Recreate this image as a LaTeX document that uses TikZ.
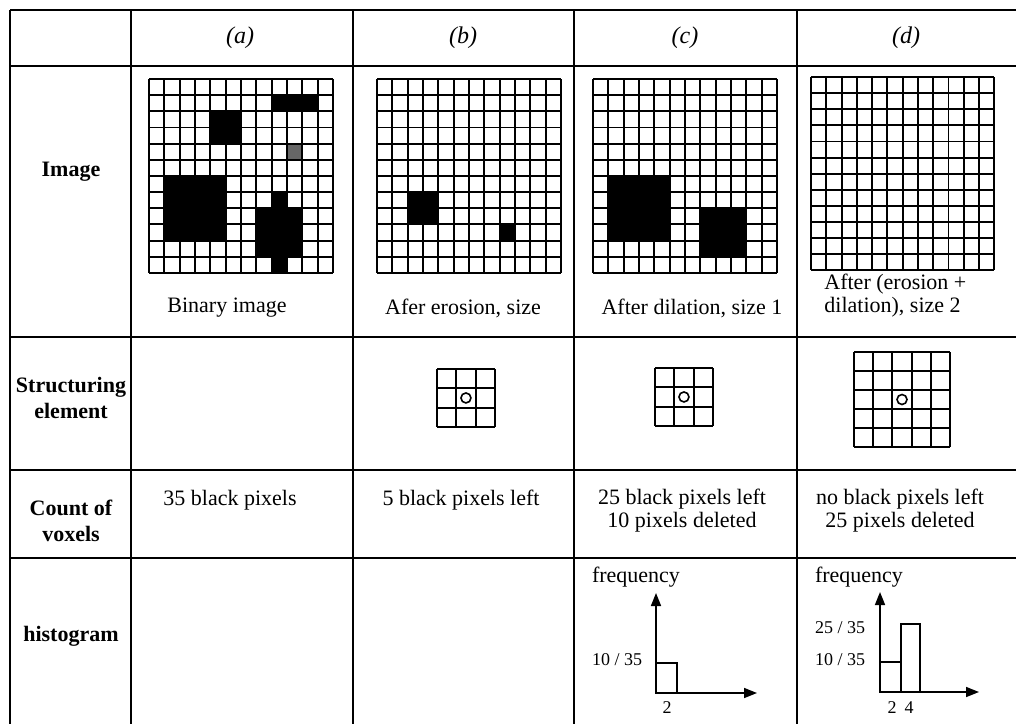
\documentclass[tikz,border=0pt]{standalone}
\usepackage{fontspec}
\setmainfont{Liberation Serif}
\usetikzlibrary{arrows.meta}
\newcommand{\cellgrid}[1]{\foreach \k in {0,...,#1} {\draw[pixline] (\k,0) -- (\k,#1); \draw[pixline] (0,\k) -- (#1,\k);}}
\begin{document}
\begin{tikzpicture}[x=0.5pt, y=-0.5pt, >={Triangle[length=6.5pt,width=5pt]},
  every node/.style={font=\fontsize{11}{13}\selectfont, inner sep=0pt},
  rule/.style={line width=1pt},
  pixline/.style={line width=0.95pt},
  head/.style={font=\fontsize{12}{14}\selectfont\itshape},
  rowlabel/.style={font=\fontsize{11}{13}\selectfont\bfseries, align=center},
  twoline/.style={font=\fontsize{11}{11.5}\selectfont, align=center},
  small/.style={font=\fontsize{9}{10}\selectfont},
  axis/.style={->, line width=0.8pt}]
\useasboundingbox (0,0) rectangle (1016,724);
% table
\foreach \y in {10,66,337,470,558} \draw[rule] (10,\y) -- (1016,\y);
\foreach \x in {10,131,353,574,797} \draw[rule] (\x,10) -- (\x,724);
\node[head] (ha) at (240,38) {(a)};
\node[head] (hb) at (463,38) {(b)};
\node[head] (hc) at (685,38) {(c)};
\node[head] (hd) at (906,38) {(d)};
\node[rowlabel] (rimg) at (71,172) {Image};
\node[rowlabel] (rse) at (71,398) {Structuring\\element};
\node[rowlabel] (rcnt) at (71,521) {Count of\\voxels};
\node[rowlabel] (rhist) at (71,636) {histogram};
% images
\begin{scope}[shift={(149,79)}, x=7.67pt, y=-8.08pt]
  \fill (8,1) rectangle (11,2);
  \fill (4,2) rectangle (6,4);
  \fill[black!60] (9,4) rectangle (10,5);
  \fill (1,6) rectangle (5,10);
  \fill (8,7) rectangle (9,8) (7,8) rectangle (10,11) (8,11) rectangle (9,12);
  \cellgrid{12}
\end{scope}
\begin{scope}[shift={(377,79)}, x=7.67pt, y=-8.08pt]
  \fill (2,7) rectangle (4,9);
  \fill (8,9) rectangle (9,10);
  \cellgrid{12}
\end{scope}
\begin{scope}[shift={(593,79)}, x=7.67pt, y=-8.08pt]
  \fill (1,6) rectangle (5,10);
  \fill (7,8) rectangle (10,11);
  \cellgrid{12}
\end{scope}
\begin{scope}[shift={(811,77)}, x=7.64pt, y=-8.06pt]
  \cellgrid{12}
\end{scope}
\node (ta) at (227,308) {Binary image};
\node (tb) at (463,308) {Afer erosion, size};
\node (tc) at (692,308) {After dilation, size 1};
\node[anchor=west, align=left, font=\fontsize{11}{11.5}\selectfont] (td) at (824,296) {After (erosion +\\dilation), size 2};
% structuring elements
\begin{scope}[shift={(437,369)}, x=9.65pt, y=-9.65pt]
  \cellgrid{3}
  \draw[line width=0.8pt] (1.5,1.5) circle (2.5pt);
\end{scope}
\begin{scope}[shift={(655,368)}, x=9.65pt, y=-9.65pt]
  \cellgrid{3}
  \draw[line width=0.8pt] (1.5,1.5) circle (2.5pt);
\end{scope}
\begin{scope}[shift={(854,352)}, x=9.6pt, y=-9.5pt]
  \cellgrid{5}
  \draw[line width=0.8pt] (2.5,2.5) circle (2.5pt);
\end{scope}
% counts
\node (ca) at (230,500) {35 black pixels};
\node (cb) at (461,500) {5 black pixels left};
\node[twoline] (cc) at (682,511) {25 black pixels left\\10 pixels deleted};
\node[twoline] (cd) at (900,511) {no black pixels left\\25 pixels deleted};
% histograms
\coordinate (oc) at (656,693);
\coordinate (yc) at (656,593);
\coordinate (xc) at (757,693);
\draw[line width=0.8pt] (656,663) rectangle (677,693);
\draw[axis] (oc) -- (yc);
\draw[axis] (oc) -- (xc);
\node (fc) at (636,577) {frequency};
\node[small] (lc) at (617,660) {10 / 35};
\node[small] (bc) at (667,708) {2};
\coordinate (od) at (880,692);
\coordinate (yd) at (880,592);
\coordinate (xd) at (979,692);
\draw[line width=0.8pt] (880,662) rectangle (901,692);
\draw[line width=0.8pt] (901,624) rectangle (920,692);
\draw[axis] (od) -- (yd);
\draw[axis] (od) -- (xd);
\node (fd) at (859,577) {frequency};
\node[small] (ud) at (840,628) {25 / 35};
\node[small] (ld) at (840,660) {10 / 35};
\node[small] (b2) at (892,708) {2};
\node[small] (b4) at (909,708) {4};
\end{tikzpicture}
\end{document}
